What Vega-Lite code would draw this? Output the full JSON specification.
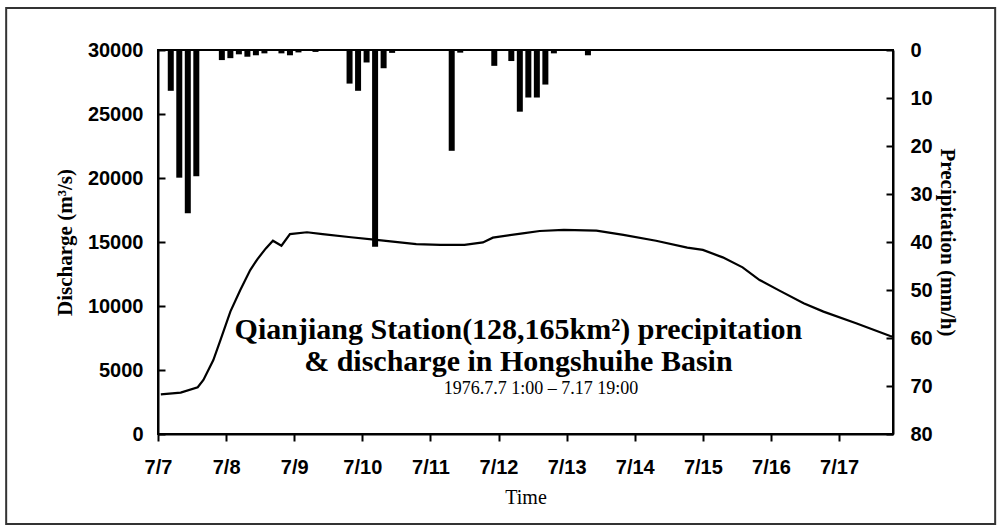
{
  "$schema": "https://vega.github.io/schema/vega-lite/v6.json",
  "width": 735,
  "height": 384,
  "autosize": {"type": "none"},
  "padding": {"left": 158, "top": 50, "right": 108, "bottom": 96},
  "background": "white",
  "config": {
    "view": {"stroke": "black", "strokeWidth": 2},
    "axis": {
      "grid": false,
      "domainColor": "black",
      "domainWidth": 2,
      "tickColor": "black",
      "tickWidth": 2,
      "labelFont": "Liberation Sans",
      "labelFontWeight": "bold",
      "labelFontSize": 20,
      "labelColor": "black",
      "labelFlush": false,
      "labelOverlap": false,
      "titleFont": "Liberation Serif",
      "titleColor": "black"
    }
  },
  "datasets": {
    "discharge": [
      {"time": "1976-07-07T01:00", "q": 3100},
      {"time": "1976-07-07T08:00", "q": 3230},
      {"time": "1976-07-07T14:00", "q": 3650},
      {"time": "1976-07-07T16:00", "q": 4220},
      {"time": "1976-07-07T19:30", "q": 5780},
      {"time": "1976-07-07T22:00", "q": 7340},
      {"time": "1976-07-08T01:30", "q": 9560},
      {"time": "1976-07-08T05:00", "q": 11250},
      {"time": "1976-07-08T08:30", "q": 12810},
      {"time": "1976-07-08T11:00", "q": 13650},
      {"time": "1976-07-08T14:00", "q": 14500},
      {"time": "1976-07-08T16:30", "q": 15100},
      {"time": "1976-07-08T19:30", "q": 14710},
      {"time": "1976-07-08T22:30", "q": 15620},
      {"time": "1976-07-09T04:30", "q": 15760},
      {"time": "1976-07-09T10:00", "q": 15620},
      {"time": "1976-07-09T20:00", "q": 15370},
      {"time": "1976-07-10T05:00", "q": 15160},
      {"time": "1976-07-10T19:00", "q": 14840},
      {"time": "1976-07-11T03:30", "q": 14770},
      {"time": "1976-07-11T12:00", "q": 14770},
      {"time": "1976-07-11T18:30", "q": 14970},
      {"time": "1976-07-11T22:00", "q": 15340},
      {"time": "1976-07-12T08:30", "q": 15680},
      {"time": "1976-07-12T14:30", "q": 15860},
      {"time": "1976-07-12T23:00", "q": 15940},
      {"time": "1976-07-13T10:30", "q": 15890},
      {"time": "1976-07-13T20:00", "q": 15550},
      {"time": "1976-07-14T07:30", "q": 15100},
      {"time": "1976-07-14T18:30", "q": 14560},
      {"time": "1976-07-15T00:00", "q": 14380},
      {"time": "1976-07-15T07:00", "q": 13800},
      {"time": "1976-07-15T14:00", "q": 13020},
      {"time": "1976-07-15T20:00", "q": 12030},
      {"time": "1976-07-16T03:00", "q": 11200},
      {"time": "1976-07-16T11:30", "q": 10210},
      {"time": "1976-07-16T18:30", "q": 9560},
      {"time": "1976-07-17T06:00", "q": 8650},
      {"time": "1976-07-17T18:00", "q": 7660},
      {"time": "1976-07-17T19:00", "q": 7600}
    ],
    "rain": [
      {"time": "1976-07-07T04:30", "p": 8.5},
      {"time": "1976-07-07T07:30", "p": 26.6},
      {"time": "1976-07-07T10:30", "p": 34},
      {"time": "1976-07-07T13:30", "p": 26.3},
      {"time": "1976-07-07T22:30", "p": 2.1},
      {"time": "1976-07-08T01:30", "p": 1.7},
      {"time": "1976-07-08T04:30", "p": 0.9},
      {"time": "1976-07-08T07:30", "p": 1.4},
      {"time": "1976-07-08T10:30", "p": 1.1},
      {"time": "1976-07-08T13:30", "p": 0.7},
      {"time": "1976-07-08T19:30", "p": 0.7},
      {"time": "1976-07-08T22:30", "p": 1.1},
      {"time": "1976-07-09T01:30", "p": 0.5},
      {"time": "1976-07-09T07:30", "p": 0.4},
      {"time": "1976-07-09T19:30", "p": 7.0},
      {"time": "1976-07-09T22:30", "p": 8.5},
      {"time": "1976-07-10T01:30", "p": 2.6},
      {"time": "1976-07-10T04:30", "p": 41},
      {"time": "1976-07-10T07:30", "p": 3.8},
      {"time": "1976-07-10T10:30", "p": 0.6},
      {"time": "1976-07-11T07:30", "p": 21},
      {"time": "1976-07-11T10:30", "p": 0.55},
      {"time": "1976-07-11T22:30", "p": 3.3},
      {"time": "1976-07-12T04:30", "p": 2.3},
      {"time": "1976-07-12T07:30", "p": 12.85},
      {"time": "1976-07-12T10:30", "p": 9.9},
      {"time": "1976-07-12T13:30", "p": 9.9},
      {"time": "1976-07-12T16:30", "p": 7.2},
      {"time": "1976-07-12T19:30", "p": 0.7},
      {"time": "1976-07-13T07:30", "p": 1.1}
    ],
    "notes": [
      {"line1": "Qianjiang Station(128,165km²) precipitation", "line2": "& discharge in Hongshuihe Basin", "line3": "1976.7.7 1:00 – 7.17 19:00"}
    ]
  },
  "layer": [
    {
      "data": {"name": "discharge"},
      "mark": {"type": "line", "color": "black", "strokeWidth": 2.2},
      "encoding": {
        "x": {
          "field": "time", "type": "temporal",
          "scale": {"domain": [{"year": 1976, "month": 7, "date": 7, "hours": 0}, {"year": 1976, "month": 7, "date": 17, "hours": 19}], "nice": false, "padding": 0},
          "axis": {"orient": "bottom", "title": "Time", "format": "%-m/%-d", "tickCount": {"interval": "day", "step": 1}, "tickSize": 7, "labelPadding": 16, "titleFontSize": 20, "titleFontWeight": "normal", "titlePadding": 10}
        },
        "y": {
          "field": "q", "type": "quantitative",
          "scale": {"domain": [0, 30000], "nice": false},
          "axis": {
            "orient": "left", "title": "Discharge  (m³/s)", "format": "d",
            "values": [0, 5000, 10000, 15000, 20000, 25000, 30000],
            "tickSize": -7, "labelPadding": 22,
            "titleFontSize": 21, "titleFontWeight": "bold", "titlePadding": 12
          }
        }
      }
    },
    {
      "data": {"name": "rain"},
      "mark": {"type": "bar", "color": "black", "size": 6},
      "encoding": {
        "x": {
          "field": "time", "type": "temporal",
          "scale": {"domain": [{"year": 1976, "month": 7, "date": 7, "hours": 0}, {"year": 1976, "month": 7, "date": 17, "hours": 19}], "nice": false, "padding": 0},
          "axis": {"orient": "bottom", "title": "Time", "format": "%-m/%-d", "tickCount": {"interval": "day", "step": 1}, "tickSize": 7, "labelPadding": 16, "titleFontSize": 20, "titleFontWeight": "normal", "titlePadding": 10}
        },
        "y": {
          "field": "p", "type": "quantitative",
          "scale": {"domain": [0, 80], "reverse": true, "nice": false},
          "axis": {
            "orient": "right", "title": "Precipitation  (mm/h)",
            "values": [0, 10, 20, 30, 40, 50, 60, 70, 80],
            "tickSize": -7, "labelPadding": 24,
            "titleFontSize": 21, "titleFontWeight": "bold", "titlePadding": 4
          }
        }
      }
    },
    {
      "data": {"name": "notes"},
      "mark": {"type": "rect", "filled": false, "stroke": "#333", "strokeWidth": 2},
      "encoding": {
        "x": {
          "datum": {"year": 1976, "month": 7, "date": 4, "hours": 18, "minutes": 30}, "type": "temporal",
          "axis": {"orient": "bottom", "title": "Time", "format": "%-m/%-d", "tickCount": {"interval": "day", "step": 1}, "tickSize": 7, "labelPadding": 16, "titleFontSize": 20, "titleFontWeight": "normal", "titlePadding": 10}
        },
        "x2": {"datum": {"year": 1976, "month": 7, "date": 19, "hours": 7}},
        "y": {"datum": 33280, "type": "quantitative", "axis": null, "scale": {"domain": [0, 30000], "nice": false}},
        "y2": {"datum": -7030}
      }
    },
    {
      "data": {"name": "notes"},
      "mark": {"type": "text", "font": "Liberation Serif", "fontWeight": "bold", "fontSize": 30, "align": "center", "baseline": "middle", "color": "black"},
      "encoding": {
        "text": {"field": "line1"},
        "x": {
          "datum": {"year": 1976, "month": 7, "date": 12, "hours": 7}, "type": "temporal",
          "axis": {"orient": "bottom", "title": "Time", "format": "%-m/%-d", "tickCount": {"interval": "day", "step": 1}, "tickSize": 7, "labelPadding": 16, "titleFontSize": 20, "titleFontWeight": "normal", "titlePadding": 10}
        },
        "y": {"datum": 8125, "type": "quantitative", "axis": null, "scale": {"domain": [0, 30000], "nice": false}}
      }
    },
    {
      "data": {"name": "notes"},
      "mark": {"type": "text", "font": "Liberation Serif", "fontWeight": "bold", "fontSize": 30, "align": "center", "baseline": "middle", "color": "black"},
      "encoding": {
        "text": {"field": "line2"},
        "x": {
          "datum": {"year": 1976, "month": 7, "date": 12, "hours": 7}, "type": "temporal",
          "axis": {"orient": "bottom", "title": "Time", "format": "%-m/%-d", "tickCount": {"interval": "day", "step": 1}, "tickSize": 7, "labelPadding": 16, "titleFontSize": 20, "titleFontWeight": "normal", "titlePadding": 10}
        },
        "y": {"datum": 5625, "type": "quantitative", "axis": null, "scale": {"domain": [0, 30000], "nice": false}}
      }
    },
    {
      "data": {"name": "notes"},
      "mark": {"type": "text", "font": "Liberation Serif", "fontWeight": "normal", "fontSize": 18, "align": "center", "baseline": "middle", "color": "black"},
      "encoding": {
        "text": {"field": "line3"},
        "x": {
          "datum": {"year": 1976, "month": 7, "date": 12, "hours": 15}, "type": "temporal",
          "axis": {"orient": "bottom", "title": "Time", "format": "%-m/%-d", "tickCount": {"interval": "day", "step": 1}, "tickSize": 7, "labelPadding": 16, "titleFontSize": 20, "titleFontWeight": "normal", "titlePadding": 10}
        },
        "y": {"datum": 3520, "type": "quantitative", "axis": null, "scale": {"domain": [0, 30000], "nice": false}}
      }
    }
  ],
  "resolve": {"scale": {"y": "independent"}}
}
